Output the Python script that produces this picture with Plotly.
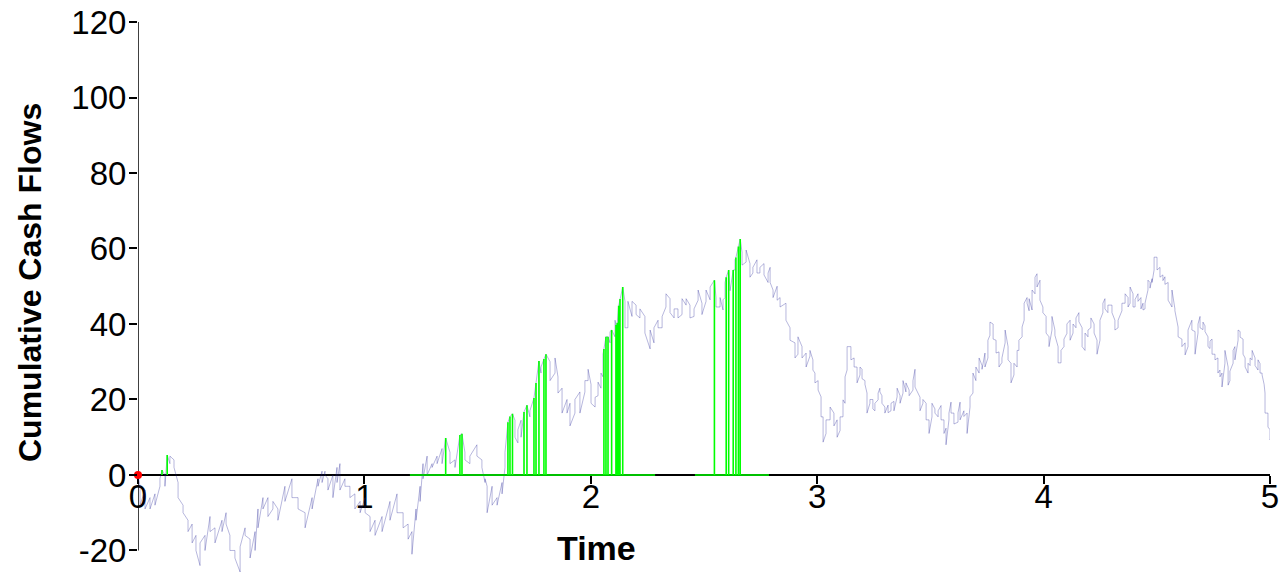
import plotly.graph_objects as go

# ---------------- data ----------------
x_tick_vals = [0, 1, 2, 3, 4, 5]
y_tick_vals = [-20, 0, 20, 40, 60, 80, 100, 120]

# simulated cumulative cash-flow path: time, and the two extremes drawn at each time
walk_t = [0.000, 0.009, 0.031, 0.053, 0.075, 0.097, 0.119, 0.141, 0.159, 0.177,
          0.199, 0.221, 0.239, 0.256, 0.274, 0.296, 0.318, 0.340, 0.371, 0.389,
          0.406, 0.428, 0.451, 0.473, 0.495, 0.517, 0.530, 0.552, 0.574, 0.596,
          0.618, 0.649, 0.680, 0.707, 0.738, 0.769, 0.795, 0.813, 0.826, 0.839,
          0.861, 0.879, 0.892, 0.914, 0.936, 0.958, 0.981, 1.003, 1.025, 1.047,
          1.078, 1.113, 1.144, 1.171, 1.193, 1.210, 1.228, 1.246, 1.259, 1.277,
          1.299, 1.321, 1.343, 1.378, 1.400, 1.444, 1.466, 1.497, 1.519, 1.533,
          1.542, 1.564, 1.586, 1.608, 1.621, 1.665, 1.678, 1.692, 1.731, 1.780,
          1.820, 1.842, 1.855, 1.873, 1.895, 1.908, 1.930, 1.952, 1.974, 1.988,
          2.001, 2.019, 2.032, 2.045, 2.054, 2.085, 2.107, 2.151, 2.164, 2.182,
          2.200, 2.217, 2.239, 2.262, 2.279, 2.297, 2.315, 2.332, 2.350, 2.368,
          2.385, 2.403, 2.421, 2.438, 2.456, 2.474, 2.491, 2.509, 2.527, 2.553,
          2.571, 2.584, 2.593, 2.615, 2.637, 2.668, 2.686, 2.703, 2.716, 2.734,
          2.747, 2.765, 2.783, 2.792, 2.805, 2.823, 2.836, 2.862, 2.880, 2.902,
          2.915, 2.933, 2.951, 2.968, 2.981, 2.990, 3.004, 3.017, 3.026, 3.039,
          3.057, 3.074, 3.088, 3.101, 3.114, 3.123, 3.132, 3.149, 3.163, 3.176,
          3.189, 3.198, 3.211, 3.220, 3.233, 3.246, 3.255, 3.269, 3.277, 3.286,
          3.299, 3.313, 3.326, 3.339, 3.353, 3.366, 3.379, 3.392, 3.406, 3.423,
          3.432, 3.454, 3.467, 3.481, 3.494, 3.507, 3.520, 3.534, 3.547, 3.560,
          3.569, 3.582, 3.591, 3.604, 3.622, 3.631, 3.648, 3.662, 3.675, 3.688,
          3.701, 3.715, 3.728, 3.741, 3.754, 3.763, 3.777, 3.790, 3.803, 3.816,
          3.830, 3.843, 3.856, 3.869, 3.883, 3.891, 3.905, 3.914, 3.927, 3.936,
          3.949, 3.962, 3.971, 3.984, 3.997, 4.011, 4.024, 4.037, 4.050, 4.064,
          4.077, 4.090, 4.103, 4.117, 4.130, 4.143, 4.156, 4.170, 4.183, 4.196,
          4.209, 4.223, 4.236, 4.249, 4.262, 4.271, 4.284, 4.302, 4.315, 4.329,
          4.346, 4.360, 4.373, 4.382, 4.395, 4.404, 4.417, 4.430, 4.439, 4.448,
          4.461, 4.470, 4.479, 4.488, 4.501, 4.514, 4.527, 4.536, 4.550, 4.567,
          4.580, 4.594, 4.611, 4.625, 4.638, 4.655, 4.669, 4.682, 4.691, 4.704,
          4.713, 4.726, 4.735, 4.744, 4.757, 4.770, 4.779, 4.788, 4.801, 4.815,
          4.823, 4.837, 4.845, 4.859, 4.868, 4.881, 4.890, 4.903, 4.912, 4.921,
          4.934, 4.947, 4.956, 4.965, 4.974, 4.978, 4.991, 5.000, 5.013, 5.027]
walk_a = [0, -3, -4, -6, -5, -3, 0, 3, 4, -2,
          -8, -12, -13, -16, -24, -16, -11, -14, -12, -10,
          -16, -20, -25.7, -14, -17, -15, -9, -6, -6, -9,
          -9, -3, -1, -6, -10, -6, -1, 1, 1, -1,
          0, 2, 3, -1, -3, -5, -7, -6, -11, -12,
          -11, -7, -5, -10, -13, -15, -9, -3, 3, 5,
          3, 5, 7, 6, 4, 6, 3, 8, 4, -2,
          -3, -3, -6, -2, 2, 14.5, 8.5, 14.5, 15.4, 27,
          30, 27, 26, 23, 20, 19, 16.4, 22, 22, 25,
          24, 18, 21, 23, 26, 35, 36.6, 46, 39, 42,
          45, 41.6, 42, 33.4, 35, 41, 39, 44.5, 46.7, 41.6,
          44, 42.5, 45, 45, 42, 46.3, 45.5, 46, 46.4, 47,
          44.5, 43.7, 47, 50.5, 54.3, 59, 56.4, 56, 53.5, 57,
          53.5, 56, 51, 55, 49, 50, 47, 45.5, 39, 35,
          32, 34, 32.3, 31.5, 30.5, 27, 25, 20.7, 15.4, 11,
          14.6, 16.4, 14.6, 11.8, 15.4, 19, 27.8, 34, 31, 28.6,
          26.5, 28, 25, 21.7, 19, 20, 17, 19.9, 23, 21,
          18, 18.5, 17, 19.5, 20.7, 21, 21.7, 22, 22.5, 22.5,
          28, 20.6, 19, 19, 14.6, 15.4, 17.5, 15.4, 18.4, 14.6,
          12.4, 14.6, 19.3, 16.4, 14, 19.3, 17, 16.4, 18, 21.7,
          25, 27, 29, 32.3, 31, 37, 40, 35.7, 32.6, 29.8,
          35, 34, 29.6, 26.5, 28.6, 33, 36.6, 41, 47, 43.5,
          43.7, 48, 53.3, 51.6, 44.5, 42, 36.6, 38.4, 38.4, 34,
          29.7, 34, 37.5, 41, 37.6, 39, 43, 39, 33, 36.6,
          39, 40, 35.7, 35.7, 43, 46.7, 43, 45, 41, 39,
          43.5, 45.5, 47, 45.5, 48, 44.5, 48, 47, 45.5, 44,
          49, 51, 52, 54.3, 57.7, 55, 53, 52.5, 51, 44.5,
          44, 39.2, 36, 35, 34, 41, 38, 37.6, 42, 38.5,
          39.5, 36.6, 33.5, 36, 32, 31, 27.8, 27, 29.6, 28.6,
          25, 29.6, 34, 35.7, 38, 36, 31, 27, 29, 30.5,
          31, 27.8, 29.5, 27, 24, 21.7, 16.4, 12, 11, 8.5]
walk_b = [0, -8, -9, -9, -8, -1, -3, 5, 2, -6,
          -10, -15, -18, -20, -18, -20, -15, -18, -15, -13,
          -20, -22, -19, -16, -22, -20, -14, -9, -11, -7,
          -12, -7, -6, -9, -14, -9, -3, -2, 0, -4,
          -6, -2, -4, -3, -6, -9, -10, -10, -15, -16,
          -15, -12, -10, -14, -17, -21, -12, -7, -1, 0,
          2, 3, 3, 3, 2, 4, 5, 5, 2, -1,
          -10, -8, -8, -5, 6, 10, 12, 10, 17, 28.6,
          25, 31, 21.7, 16.4, 16.4, 13, 20, 16.4, 25, 28,
          19, 20.6, 24.6, 27, 32, 38, 41, 39, 46, 46,
          42.5, 44, 37.6, 38.4, 39, 39, 42, 48, 43, 44,
          41.6, 46.7, 46.7, 41.6, 44, 49, 42.5, 49, 49.8, 44.5,
          47, 46.4, 51, 48.8, 57, 55.6, 59.6, 52.4, 55, 53.5,
          55, 53, 53.5, 51, 47, 46.3, 44.5, 41, 35.7, 31,
          36.6, 31, 28.6, 33, 27.8, 24.4, 22.5, 15.4, 8.7, 14.6,
          18, 13, 10, 15.4, 19.9, 26, 34, 30.5, 28.6, 24.4,
          28.6, 25.5, 24, 16.4, 20, 17.5, 19, 21.7, 22, 19,
          16.4, 16.5, 19, 17, 23, 19, 25, 24.4, 21, 25,
          23.3, 17, 20, 14.6, 11, 19, 16.4, 17, 14.6, 11,
          8, 16.4, 16.4, 13.5, 16.5, 14.6, 15.5, 11, 20.7, 27,
          28.6, 31, 28, 28.6, 35.7, 40.5, 36, 32.3, 28.6, 31,
          38.4, 30.5, 24.4, 29.6, 33, 35.7, 39.2, 45.5, 45.5, 46.7,
          49, 52.4, 49.8, 46.3, 43, 37.6, 34, 42, 37, 29.7,
          33, 36, 40, 35.7, 40, 41.6, 40.6, 34, 37.6, 38.4,
          41.6, 37.6, 32, 41, 45.5, 44, 45, 43, 38.4, 41,
          45.5, 48, 44.5, 49.8, 44.5, 46.5, 46, 44, 43.7, 45.5,
          51.6, 49.5, 51, 57.7, 54.3, 52.4, 51.5, 50.5, 46.3, 49,
          43.5, 36.6, 34, 31.8, 38.4, 38.4, 32, 40, 39, 40.5,
          38, 34, 35.5, 32, 30.5, 27, 26, 23.3, 33, 23.8,
          27.5, 33, 30.5, 38.4, 36.5, 32, 28.6, 29.6, 31, 33,
          29, 30.5, 27, 26.5, 24, 16.4, 12.7, 9.3, 8.5, 7.5]

# times at which the positive cash flow is marked (green), with the path value there
spike_t = [0.106, 0.129, 1.359, 1.422, 1.431, 1.634, 1.643, 1.654, 1.705, 1.718,
           1.749, 1.758, 1.771, 1.793, 1.802, 2.058, 2.067, 2.076, 2.092, 2.111,
           2.117, 2.123, 2.129, 2.141, 2.546, 2.598, 2.609, 2.629, 2.641, 2.652,
           2.660]
spike_v = [1.3, 5.3, 9.8, 10.6, 10.9, 14.0, 15.5, 16.2, 16.7, 18.5,
           20.4, 24.4, 30.2, 30.7, 32.0, 33.4, 36.6, 36.6, 38.4, 39.7,
           40.3, 44.8, 46.6, 49.8, 51.6, 52.4, 54.3, 54.3, 57.6, 60.5,
           62.5]
# periods where the green series sits on the zero line
green_start = [1.201, 2.460]
green_end = [2.284, 2.787]

start_t = [0.0]
start_v = [0.0]

# ---------------- build traces ----------------
pts = []
for t, a, b in zip(walk_t, walk_a, walk_b):
    pts.append((t, a))
    pts.append((t, b))
for t, v in zip(spike_t, spike_v):
    pts.append((t, v))
pts.sort(key=lambda p: p[0])
path_x = [p[0] for p in pts]
path_y = [p[1] for p in pts]

gx, gy = [], []
used = set()
for a, b in zip(green_start, green_end):
    gx.append(a); gy.append(0)
    for i, (t, v) in enumerate(zip(spike_t, spike_v)):
        if a <= t <= b:
            used.add(i)
            gx += [t, t, t]
            gy += [0, v, 0]
    gx += [b, None]
    gy += [0, None]
for i, (t, v) in enumerate(zip(spike_t, spike_v)):
    if i not in used:
        gx += [t, t, None]
        gy += [0, v, None]

FONT = "Arial, Liberation Sans, sans-serif"

fig = go.Figure()
fig.add_trace(go.Scatter(x=path_x, y=path_y, mode="lines",
                         line=dict(color="rgba(30,30,150,0.32)", width=1),
                         hoverinfo="skip", showlegend=False))
fig.add_trace(go.Scatter(x=gx, y=gy, mode="lines",
                         line=dict(color="#00ff00", width=1.6),
                         hoverinfo="skip", showlegend=False))
fig.add_trace(go.Scatter(x=start_t, y=start_v, mode="markers",
                         marker=dict(color="red", size=8),
                         cliponaxis=False, showlegend=False))

y_lo, y_hi = -25.7, 120
fig.update_layout(
    width=1279, height=572, autosize=False,
    margin=dict(l=138, r=9, t=22, b=0),
    plot_bgcolor="white", paper_bgcolor="white",
    font=dict(family=FONT, color="black"),
    xaxis=dict(range=[0, 5], tickvals=x_tick_vals,
               ticktext=[str(v) for v in x_tick_vals],
               ticks="outside", ticklen=8, tickwidth=1.5, tickcolor="black",
               showline=True, linecolor="black", linewidth=1.5,
               showgrid=False, zeroline=False, automargin=False,
               anchor="free", position=(0 - y_lo) / (y_hi - y_lo),
               tickfont=dict(size=33, family=FONT, color="black"),
               ticklabelstandoff=-15, ticklabeloverflow="allow",
               layer="below traces"),
    yaxis=dict(range=[y_lo, y_hi], tickvals=y_tick_vals,
               ticktext=[str(v) for v in y_tick_vals],
               ticks="outside", ticklen=8, tickwidth=1.5, tickcolor="black",
               showline=False, showgrid=False, zeroline=False, automargin=False,
               tickfont=dict(size=33, family=FONT, color="black"),
               ticklabelstandoff=-4, ticklabeloverflow="allow"),
    shapes=[dict(type="line", xref="x", yref="y", x0=0, x1=0, y0=-20, y1=120,
                 line=dict(color="black", width=1.5), layer="below")],
    annotations=[
        dict(text="<b>Time</b>", xref="paper", yref="paper",
             x=(596 - 138) / 1132, y=1 - (548 - 22) / 550,
             xanchor="center", yanchor="middle", showarrow=False,
             font=dict(size=34, family=FONT, color="black")),
        dict(text="<b>Cumulative Cash Flows</b>", xref="paper", yref="paper",
             x=(30 - 138) / 1132, y=1 - (283 - 22) / 550, textangle=-90,
             xanchor="center", yanchor="middle", showarrow=False,
             font=dict(size=32, family=FONT, color="black")),
    ],
)

fig.write_html("out.html",
               config={"displayModeBar": False},
               post_script="document.body.style.margin='0';"
                           "document.body.style.overflow='hidden';")
